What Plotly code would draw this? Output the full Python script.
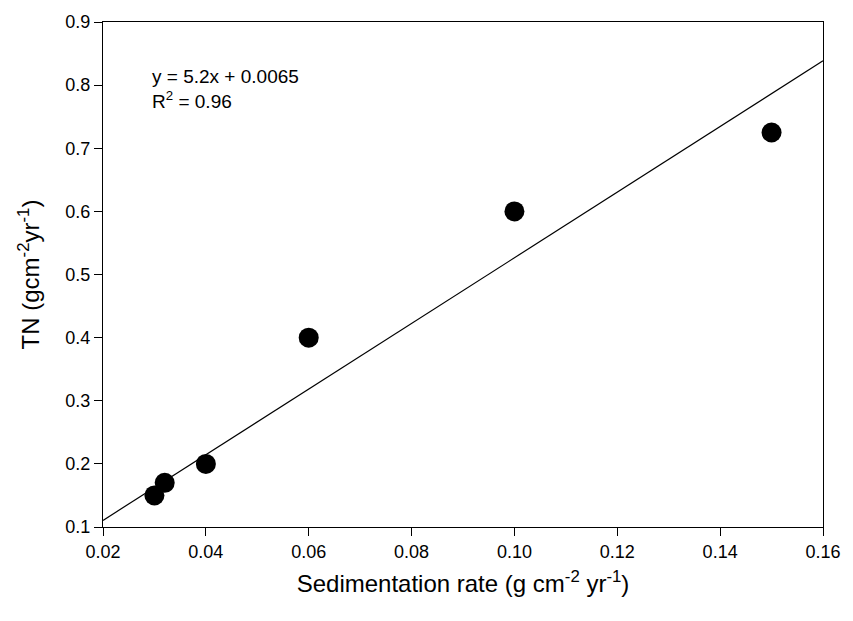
import plotly.graph_objects as go

sed_rate = [0.03, 0.032, 0.04, 0.06, 0.10, 0.15]
tn = [0.15, 0.17, 0.20, 0.40, 0.60, 0.725]
slope = 5.2
intercept = 0.0065
fit_x = [0.02, 0.16]
fit_y = [slope * v + intercept for v in fit_x]

FONT = "Arial, Liberation Sans, sans-serif"

fig = go.Figure()
fig.add_trace(go.Scatter(x=fit_x, y=fit_y, mode="lines",
                         line=dict(color="black", width=1.2), showlegend=False))
fig.add_trace(go.Scatter(x=sed_rate, y=tn, mode="markers",
                         marker=dict(color="black", size=20), showlegend=False))

fig.add_annotation(x=0.0, y=1.0, xref="paper", yref="paper", xshift=47, yshift=-42,
                   text="y = 5.2x + 0.0065<br>R<sup>2</sup> = 0.96", showarrow=False,
                   xanchor="left", yanchor="top", align="left",
                   font=dict(family=FONT, size=19, color="black"))

axis_common = dict(showline=True, linecolor="black", linewidth=1, mirror=True,
                   ticks="outside", ticklen=8, tickcolor="black", tickwidth=1,
                   showgrid=False, zeroline=False,
                   tickfont=dict(family=FONT, size=18, color="black"))

fig.update_xaxes(range=[0.02, 0.16], dtick=0.02, tick0=0.02, tickformat=".2f",
                 title=dict(text="Sedimentation rate (g cm<sup>-2</sup> yr<sup>-1</sup>)",
                            font=dict(family=FONT, size=24, color="black"), standoff=14),
                 **axis_common)
fig.update_yaxes(range=[0.1, 0.9], dtick=0.1, tick0=0.1, tickformat=".1f",
                 title=dict(text="TN (gcm<sup>-2</sup>yr<sup>-1</sup>)",
                            font=dict(family=FONT, size=24, color="black"), standoff=18),
                 **axis_common)

fig.update_layout(width=853, height=621, margin=dict(l=103, r=22, t=17, b=94),
                  plot_bgcolor="white", paper_bgcolor="white",
                  font=dict(family=FONT, color="black"))

fig.write_html("out.html", config={"displayModeBar": False},
               post_script="document.body.style.margin='0';document.body.style.overflow='hidden';")
